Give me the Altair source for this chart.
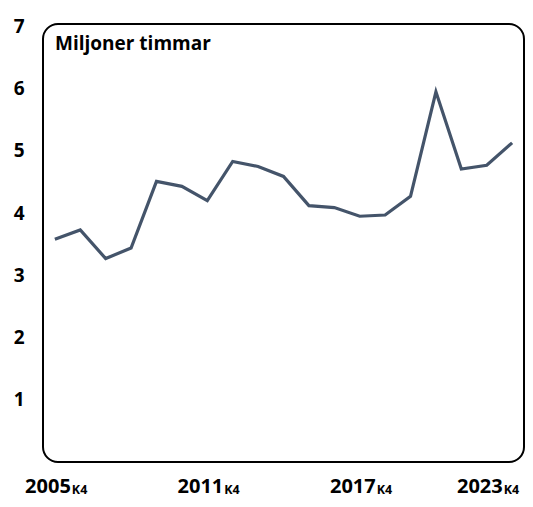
import altair as alt
import pandas as pd

years = list(range(2005, 2024))
values = [3.58, 3.73, 3.27, 3.44, 4.51, 4.43, 4.20, 4.83, 4.75, 4.59,
          4.12, 4.09, 3.95, 3.97, 4.27, 5.95, 4.71, 4.77, 5.13]
label_years = [2005, 2011, 2017, 2023]
label_suffix = ["K4", "K4", "K4", "K4"]
y_ticks = [1, 2, 3, 4, 5, 6, 7]
title_text = "Miljoner timmar"

FONT = "Open Sans"

df = pd.DataFrame({"year": years, "value": values})
lab = pd.DataFrame({"year": label_years, "suffix": label_suffix,
                    "ytxt": [str(y) for y in label_years]})

xscale = alt.Scale(domain=[2004.533, 2023.467], nice=False, zero=False)
yscale = alt.Scale(domain=[0, 7.04], nice=False)

line = alt.Chart(df).mark_line(color="#44546A", strokeWidth=3.2).encode(
    x=alt.X("year:Q", scale=xscale, axis=None),
    y=alt.Y("value:Q", scale=yscale,
            axis=alt.Axis(values=y_ticks, title=None, domain=False, ticks=False,
                          tickSize=0, grid=False, labelPadding=19,
                          labelFont=FONT, labelFontSize=19, labelFontWeight="bold",
                          labelColor="black")),
)

base_lab = alt.Chart(lab).transform_calculate(lx="min(datum.year, 2022.0)")

year_txt = base_lab.mark_text(font=FONT, fontSize=20, fontWeight="bold", color="black",
                              align="right", baseline="alphabetic", dx=16).encode(
    x=alt.X("lx:Q", scale=xscale), y=alt.value(469), text="ytxt:N")

suf_txt = base_lab.mark_text(font=FONT, fontSize=12.5, fontWeight="bold", color="black",
                             align="left", baseline="alphabetic", dx=17).encode(
    x=alt.X("lx:Q", scale=xscale), y=alt.value(470), text="suffix:N")

title = alt.Chart(pd.DataFrame({"t": [title_text]})).mark_text(
    font=FONT, fontSize=19, fontWeight="bold", color="black",
    align="left", baseline="alphabetic").encode(
    x=alt.value(12), y=alt.value(26), text="t:N")

chart = alt.layer(line, year_txt, suf_txt, title).properties(
    width=481, height=438,
    autosize=alt.AutoSizeParams(type="none"),
    padding={"left": 35, "top": 16, "right": 1, "bottom": 37},
    background="white",
).configure_view(
    stroke="black", strokeWidth=2, cornerRadius=15
)

chart.save("out.html", embed_options={"renderer": "svg", "actions": False})
